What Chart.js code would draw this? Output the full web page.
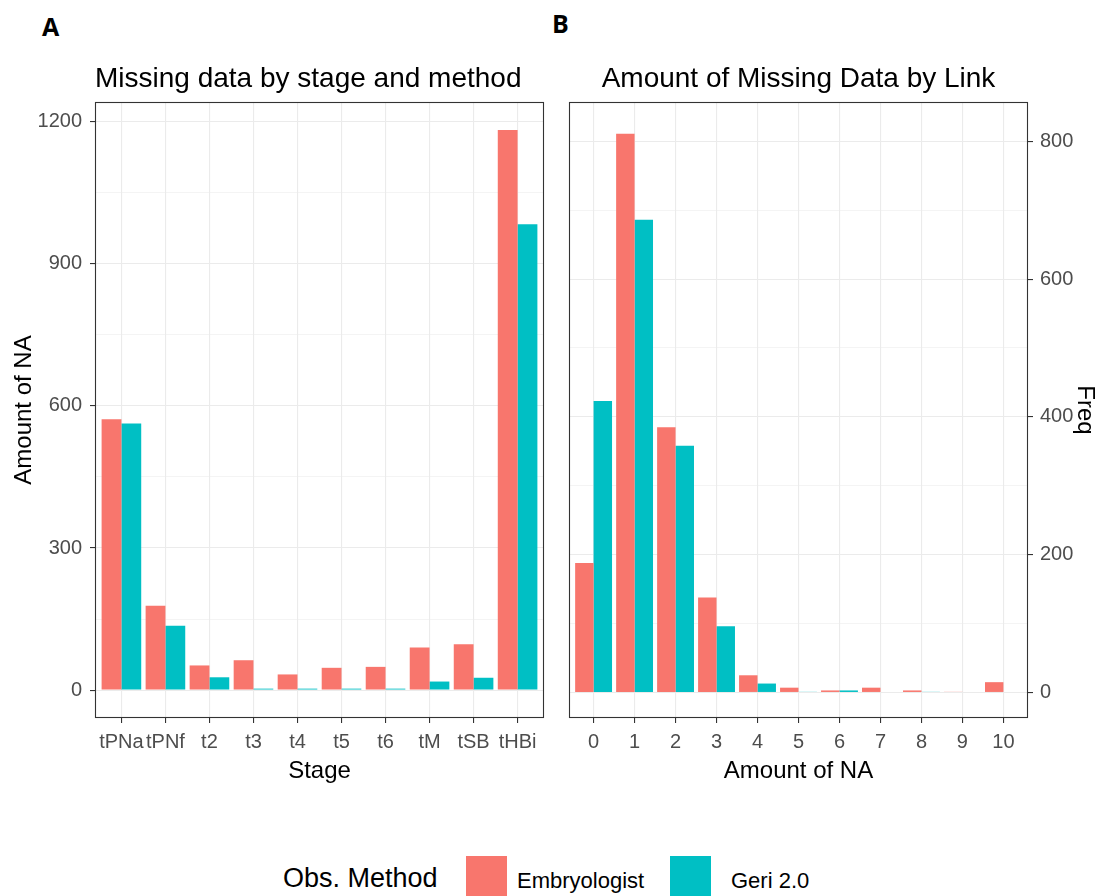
<!DOCTYPE html>
<html>
<head>
<meta charset="utf-8">
<script src="https://cdn.jsdelivr.net/npm/chart.js@4.4.1/dist/chart.umd.min.js"></script>
<style>
  html, body { margin: 0; padding: 0; background: #ffffff; }
  body { width: 1099px; height: 896px; position: relative; overflow: hidden;
         font-family: "Liberation Sans", Arial, sans-serif; }
  .panel { position: absolute; top: 0; height: 800px; }
  #panelA { left: 0; width: 560px; }
  #panelB { left: 550px; width: 549px; }
  .tag { position: absolute; font-family: "Open Sans", "DejaVu Sans", sans-serif;
         font-weight: 700; font-size: 25px; line-height: 25px; color: #000; }
  .legend-title { position: absolute; left: 283px; top: 865px; font-size: 27px; line-height: 27px; color: #000; white-space: nowrap; }
  .legend-key { position: absolute; top: 856px; width: 41px; height: 42px; }
  .legend-label { position: absolute; top: 870px; font-size: 22px; line-height: 22px; color: #000; white-space: nowrap; }
</style>
</head>
<body>
<div class="tag" style="left:42px; top:14px;">A</div>
<div class="tag" style="left:552px; top:11px;">B</div>

<div class="panel" id="panelA"><canvas id="chartA"></canvas></div>
<div class="panel" id="panelB"><canvas id="chartB"></canvas></div>

<div class="legend-title">Obs. Method</div>
<div class="legend-key" style="left:466px; background:#F8766D;"></div>
<div class="legend-label" style="left:517px;">Embryologist</div>
<div class="legend-key" style="left:670px; background:#00BFC4;"></div>
<div class="legend-label" style="left:731px;">Geri 2.0</div>

<script>
// Missing values per embryo development stage, by observation method
const stages = ['tPNa', 'tPNf', 't2', 't3', 't4', 't5', 't6', 'tM', 'tSB', 'tHBi'];
const stageEmbryologist = [572, 178, 52, 63, 33, 47, 49, 90, 97, 1183];
const stageGeri = [563, 136, 27, 3, 3, 3, 3, 18, 26, 984];

// Number of links with a given amount of missing values
const naAmounts = ['0', '1', '2', '3', '4', '5', '6', '7', '8', '9', '10'];
const linkEmbryologist = [188, 811, 385, 138, 25, 7, 3, 7, 3, 1, 15];
const linkGeri = [423, 686, 358, 96, 13, 1, 3, 0, 1, 0, 0];

// Labelled y ticks; grid lines halfway between them are minor lines
const stageTicks = [0, 300, 600, 900, 1200];
const freqTicks = [0, 200, 400, 600, 800];

const methodNames = ['Embryologist', 'Geri 2.0'];
const methodColors = ['#F8766D', '#00BFC4'];

Chart.defaults.font.family = '"Liberation Sans", Arial, sans-serif';
Chart.defaults.animation = false;

const GRID = '#EBEBEB';
const TICK_COLOR = '#4D4D4D';

function withMinor(major) {
  const out = [];
  for (let i = 0; i < major.length; i++) {
    out.push(major[i]);
    if (i < major.length - 1) out.push((major[i] + major[i + 1]) / 2);
  }
  return out;
}

const isMajor = (major, v) => major.indexOf(v) !== -1;

// Dark frame around the plotting panel
const panelFrame = {
  id: 'panelFrame',
  afterDatasetsDraw(chart) {
    const a = chart.chartArea;
    const ctx = chart.ctx;
    ctx.save();
    ctx.strokeStyle = '#333333';
    ctx.lineWidth = 1.1;
    ctx.strokeRect(a.left + 0.5, a.top + 0.5, a.right - a.left - 1, a.bottom - a.top - 1);
    ctx.restore();
  }
};

function toPoints(values) {
  return values.map((v, i) => ({ x: i, y: v }));
}

function xScale(labels, min, max) {
  return {
    type: 'linear',
    min: min,
    max: max,
    offset: false,
    afterBuildTicks: s => { s.ticks = labels.map((_, i) => ({ value: i })); },
    afterFit: s => { s.height = 80; },
    ticks: {
      color: TICK_COLOR,
      font: { size: 20 },
      padding: 7,
      maxRotation: 0,
      autoSkip: false,
      callback: v => labels[v]
    },
    grid: {
      offset: false,
      color: GRID,
      lineWidth: 1.1,
      tickLength: 5,
      tickColor: '#333333',
      tickWidth: 1.1
    },
    border: { display: false }
  };
}

function yScale(major, min, max, position, titleText, width, labelPad, titlePad) {
  const all = withMinor(major);
  return {
    type: 'linear',
    position: position,
    min: min,
    max: max,
    afterBuildTicks: s => { s.ticks = all.map(v => ({ value: v })); },
    afterFit: s => { s.width = width; },
    ticks: {
      color: TICK_COLOR,
      font: { size: 20 },
      padding: labelPad,
      autoSkip: false,
      callback: v => (isMajor(major, v) ? String(v) : '')
    },
    grid: {
      color: GRID,
      lineWidth: ctx => (isMajor(major, ctx.tick && ctx.tick.value) ? 1.1 : 0.55),
      tickLength: 5,
      tickColor: ctx => (isMajor(major, ctx.tick && ctx.tick.value) ? '#333333' : 'rgba(0,0,0,0)'),
      tickWidth: 1.1
    },
    border: { display: false },
    title: {
      display: true,
      text: titleText,
      color: '#000000',
      font: { size: 24 },
      padding: { top: titlePad, bottom: 0 }
    }
  };
}

function datasets(a, b) {
  return [a, b].map((vals, k) => ({
    label: methodNames[k],
    data: toPoints(vals),
    backgroundColor: methodColors[k],
    borderWidth: 0,
    categoryPercentage: 0.9,
    barPercentage: 1.0
  }));
}

// Panel A: missing data by stage
const scalesA = {
  x: xScale(stages, -0.6, stages.length - 0.4),
  y: yScale(stageTicks, -59, 1242, 'left', 'Amount of NA', 95, 8, 10)
};
scalesA.x.title = { display: true, text: 'Stage', color: '#000000', font: { size: 24 }, padding: { top: 0, bottom: 12 } };

new Chart(document.getElementById('chartA'), {
  type: 'bar',
  data: { datasets: datasets(stageEmbryologist, stageGeri) },
  options: {
    responsive: true,
    maintainAspectRatio: false,
    layout: { padding: { left: 0, right: 16, top: 0, bottom: 2 } },
    scales: scalesA,
    plugins: {
      legend: { display: false },
      tooltip: { enabled: false },
      title: {
        display: true,
        text: 'Missing data by stage and method',
        align: 'start',
        fullSize: false,
        color: '#000000',
        font: { size: 28, weight: 'normal' },
        padding: { top: 62, bottom: 6.4 }
      }
    }
  },
  plugins: [panelFrame]
});

// Panel B: amount of missing data per link
const scalesB = {
  x: xScale(naAmounts, -0.6, naAmounts.length - 0.4),
  y: yScale(freqTicks, -37, 857, 'right', 'Freq', 71, 7, 0)
};
scalesB.x.title = { display: true, text: 'Amount of NA', color: '#000000', font: { size: 24 }, padding: { top: 0, bottom: 12 } };

new Chart(document.getElementById('chartB'), {
  type: 'bar',
  data: { datasets: datasets(linkEmbryologist, linkGeri) },
  options: {
    responsive: true,
    maintainAspectRatio: false,
    layout: { padding: { left: 19, right: 0, top: 0, bottom: 2 } },
    scales: scalesB,
    plugins: {
      legend: { display: false },
      tooltip: { enabled: false },
      title: {
        display: true,
        text: 'Amount of Missing Data by Link',
        align: 'center',
        fullSize: false,
        color: '#000000',
        font: { size: 28, weight: 'normal' },
        padding: { top: 62, bottom: 6.4 }
      }
    }
  },
  plugins: [panelFrame]
});
</script>
</body>
</html>
